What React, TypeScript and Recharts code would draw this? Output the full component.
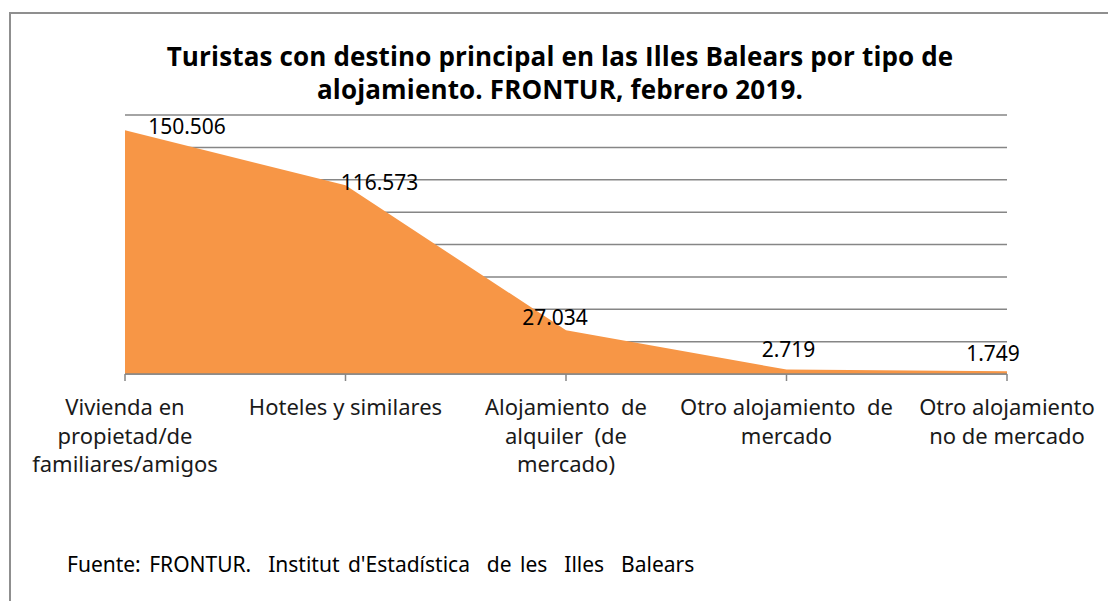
import React from "react";
import { AreaChart, Area, XAxis, YAxis, CartesianGrid } from "recharts";

const categories = [
  "Vivienda en\npropietad/de\nfamiliares/amigos",
  "Hoteles y similares",
  "Alojamiento  de\nalquiler  (de\nmercado)",
  "Otro alojamiento  de\nmercado",
  "Otro alojamiento\nno de mercado",
];
const turistas = [150506, 116573, 27034, 2719, 1749];
const yTicks = [0, 20000, 40000, 60000, 80000, 100000, 120000, 140000, 160000];

const TITLE_LINES = [
  "Turistas con destino principal en las Illes Balears por tipo de",
  "alojamiento. FRONTUR, febrero 2019.",
];
const SOURCE = "Fuente: FRONTUR.  Institut d'Estadística  de les  Illes  Balears";

const data = categories.map((c, i) => ({ cat: c, value: turistas[i] }));

// label placement offsets (style), relative to each point
const LABEL_OFFSETS: [number, number][] = [
  [62, -4],
  [34, -3],
  [-11, -13],
  [2, -21],
  [-14, -18],
];

const fmt = (v: number) => String(v).replace(/\B(?=(\d{3})+(?!\d))/g, ".");

const FONT = "'Noto Sans', 'Open Sans', sans-serif";

const renderLabel = (props: any) => {
  const { x, y, value, index } = props;
  const [dx, dy] = LABEL_OFFSETS[index] || [0, -10];
  return (
    <text
      x={x + dx}
      y={y + dy}
      textAnchor="middle"
      dominantBaseline="central"
      fontFamily={FONT}
      fontSize={21}
      fill="#000"
    >
      {fmt(value)}
    </text>
  );
};

const CatTick = (props: any) => {
  const { x, y, payload } = props;
  const lines = String(payload.value).split("\n");
  return (
    <text
      x={x}
      y={y}
      textAnchor="middle"
      fontFamily={FONT}
      fontSize={22}
      fill="#1a1a1a"
      style={{ whiteSpace: "pre" }}
    >
      {lines.map((l, i) => (
        <tspan key={i} x={x} y={y + 32 + i * 28.5}>
          {l}
        </tspan>
      ))}
    </text>
  );
};

export default function App() {
  return (
    <div
      style={{
        position: "absolute",
        left: 0,
        top: 0,
        width: 1108,
        height: 601,
        overflow: "hidden",
        background: "#fff",
      }}
    >
      <div
        style={{
          position: "absolute",
          left: 9,
          top: 12,
          width: 1300,
          height: 800,
          borderLeft: "2px solid #8f8f8f",
          borderTop: "2px solid #8f8f8f",
        }}
      />
      <div
        style={{
          position: "absolute",
          left: 0,
          width: 1120,
          top: 40,
          textAlign: "center",
          fontFamily: "'Open Sans', sans-serif",
          fontWeight: 700,
          fontSize: 26,
          lineHeight: "33px",
          color: "#000",
          letterSpacing: 0.15,
          whiteSpace: "nowrap",
        }}
      >
        {TITLE_LINES.map((t, i) => (
          <div key={i}>{t}</div>
        ))}
      </div>
      <div
        style={{
          position: "absolute",
          left: 67,
          top: 550,
          fontFamily: FONT,
          fontSize: 21,
          wordSpacing: 3,
          color: "#000",
          whiteSpace: "pre",
        }}
      >
        {SOURCE}
      </div>
      <div style={{ position: "absolute", left: 0, top: 0 }}>
        <AreaChart
          width={1108}
          height={601}
          data={data}
          margin={{ top: 115, right: 101, bottom: 197, left: 125 }}
        >
          <CartesianGrid
            vertical={false}
            stroke="#868686"
            strokeWidth={1.5}
          />
          <YAxis hide domain={[0, 160000]} ticks={yTicks} />
          <XAxis
            dataKey="cat"
            height={30}
            interval={0}
            axisLine={{ stroke: "#868686", strokeWidth: 1.5 }}
            tickLine={{ stroke: "#868686", strokeWidth: 1.5 }}
            tickSize={7}
            tick={<CatTick />}
          />
          <Area
            type="linear"
            dataKey="value"
            stroke="none"
            fill="#F79646"
            fillOpacity={1}
            isAnimationActive={false}
            label={renderLabel}
          />
        </AreaChart>
      </div>
    </div>
  );
}
